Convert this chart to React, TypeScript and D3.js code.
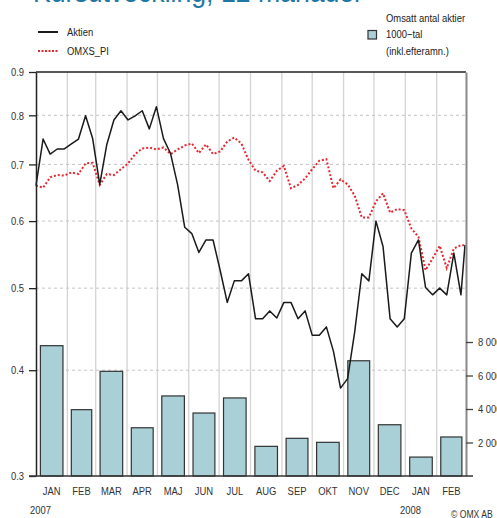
// @ts-nocheck
import { useEffect, useRef } from "react";
import * as d3 from "d3";

// weekly closing dates
const weeks = [
  "2007-01-01", "2007-01-08", "2007-01-15", "2007-01-22", "2007-01-29",
  "2007-02-05", "2007-02-12", "2007-02-19", "2007-02-26",
  "2007-03-05", "2007-03-12", "2007-03-19", "2007-03-26",
  "2007-04-02", "2007-04-09", "2007-04-16", "2007-04-23", "2007-04-30",
  "2007-05-07", "2007-05-14", "2007-05-21", "2007-05-28",
  "2007-06-04", "2007-06-11", "2007-06-18", "2007-06-25",
  "2007-07-02", "2007-07-09", "2007-07-16", "2007-07-23", "2007-07-30",
  "2007-08-06", "2007-08-13", "2007-08-20", "2007-08-27",
  "2007-09-03", "2007-09-10", "2007-09-17", "2007-09-24",
  "2007-10-01", "2007-10-08", "2007-10-15", "2007-10-22", "2007-10-29",
  "2007-11-05", "2007-11-12", "2007-11-19", "2007-11-26",
  "2007-12-03", "2007-12-10", "2007-12-17", "2007-12-24", "2007-12-31",
  "2008-01-07", "2008-01-14", "2008-01-21", "2008-01-28",
  "2008-02-04", "2008-02-11", "2008-02-18", "2008-02-25", "2008-02-29",
];

const aktien = [
  0.661, 0.75, 0.72, 0.73, 0.73,
  0.74, 0.75, 0.799, 0.751,
  0.663, 0.739, 0.79, 0.81,
  0.79, 0.799, 0.81, 0.771, 0.819,
  0.751, 0.721, 0.662, 0.59,
  0.58, 0.551, 0.57, 0.57,
  0.525, 0.481, 0.51, 0.51, 0.52,
  0.46, 0.46, 0.47, 0.461,
  0.481, 0.481, 0.46, 0.47,
  0.44, 0.44, 0.45, 0.421, 0.381,
  0.391, 0.444, 0.52, 0.51,
  0.6, 0.56, 0.46, 0.45, 0.46,
  0.55, 0.57, 0.501, 0.491,
  0.5, 0.491, 0.55, 0.491, 0.562,
];

const omxspi = [
  0.661, 0.657, 0.676, 0.68, 0.679,
  0.685, 0.682, 0.702, 0.703,
  0.662, 0.682, 0.68, 0.691,
  0.702, 0.72, 0.731, 0.733, 0.729,
  0.733, 0.72, 0.729, 0.737,
  0.741, 0.722, 0.739, 0.72,
  0.725, 0.745, 0.753, 0.741, 0.709,
  0.688, 0.685, 0.669, 0.688,
  0.697, 0.656, 0.662, 0.674,
  0.691, 0.707, 0.71, 0.656, 0.672,
  0.663, 0.643, 0.606, 0.606,
  0.633, 0.647, 0.614, 0.62, 0.618,
  0.588, 0.575, 0.525, 0.542,
  0.561, 0.528, 0.557, 0.562, 0.562,
];

const months = [
  "2007-01-01", "2007-02-01", "2007-03-01", "2007-04-01", "2007-05-01",
  "2007-06-01", "2007-07-01", "2007-08-01", "2007-09-01", "2007-10-01",
  "2007-11-01", "2007-12-01", "2008-01-01", "2008-02-01", "2008-03-01",
];
const monthLabels = [
  "JAN", "FEB", "MAR", "APR", "MAJ", "JUN", "JUL",
  "AUG", "SEP", "OKT", "NOV", "DEC", "JAN", "FEB",
];
// omsatt antal aktier, 1000-tal
const volume = [7780, 3960, 6250, 2880, 4780, 3760, 4660, 1770, 2250, 2010, 6880, 3060, 1130, 2330];

const priceTicks = [0.3, 0.4, 0.5, 0.6, 0.7, 0.8, 0.9];
const volumeTicks = [2000, 4000, 6000, 8000];

const FONT = "'Liberation Sans Narrow', 'Liberation Sans', Arial, sans-serif";
const SQUEEZE = 0.82; // no narrow font installed, squeeze the glyphs instead

// squeeze text horizontally around its own x
const narrow = (sel) =>
  sel.each(function () {
    const t = d3.select(this);
    const x0 = +t.attr("x") || 0;
    t.attr("transform", `translate(${x0 * (1 - SQUEEZE)},0) scale(${SQUEEZE},1)`);
  });

const App = () => {
  const ref = useRef(null);

  useEffect(() => {
    if (!ref.current) return;
    const width = 497;
    const height = 518;
    const margin = { top: 72, right: 31, bottom: 42, left: 36 };
    const parse = d3.timeParse("%Y-%m-%d");

    d3.select(ref.current).selectAll("*").remove();

    const svg = d3
      .select(ref.current)
      .append("svg")
      .attr("width", width)
      .attr("height", height)
      .style("display", "block")
      .style("font-family", FONT);

    const x = d3
      .scaleTime()
      .domain([parse(months[0]), parse(months[months.length - 1])])
      .range([margin.left, width - margin.right]);

    const y = d3
      .scaleLog()
      .domain([0.3, 0.9])
      .range([height - margin.bottom, margin.top]);

    const yv = d3
      .scaleLinear()
      .domain([0, 24120])
      .range([height - margin.bottom, margin.top]);

    const left = margin.left;
    const right = width - margin.right;
    const top = margin.top;
    const bottom = height - margin.bottom;

    // title, mostly cut off at the top
    svg
      .append("text")
      .attr("x", 33)
      .attr("y", 1.5)
      .attr("font-family", "'Liberation Sans', Arial, sans-serif")
      .attr("font-size", 29)
      .attr("fill", "#1f78a4")
      .attr("textLength", 330)
      .attr("lengthAdjust", "spacingAndGlyphs")
      .text("Kursutveckling, 12 månader");

    // month gridlines
    svg
      .append("g")
      .selectAll("line")
      .data(months.slice(1, -1))
      .join("line")
      .attr("x1", (d) => x(parse(d)))
      .attr("x2", (d) => x(parse(d)))
      .attr("y1", top)
      .attr("y2", bottom)
      .attr("stroke", "#d4d4d4")
      .attr("stroke-width", 1.3);

    // horizontal dashed gridlines
    svg
      .append("g")
      .selectAll("line")
      .data(priceTicks.slice(1, -1))
      .join("line")
      .attr("x1", left)
      .attr("x2", right)
      .attr("y1", (d) => y(d))
      .attr("y2", (d) => y(d))
      .attr("stroke", "#c4c4c4")
      .attr("stroke-dasharray", "3,3");

    // volume bars
    const monthData = monthLabels.map((m, i) => ({
      label: m,
      start: parse(months[i]),
      end: parse(months[i + 1]),
      vol: volume[i],
    }));

    svg
      .append("g")
      .selectAll("rect")
      .data(monthData)
      .join("rect")
      .attr("x", (d) => {
        const w = x(d.end) - x(d.start);
        return x(d.start) + w * 0.14;
      })
      .attr("width", (d) => (x(d.end) - x(d.start)) * 0.72)
      .attr("y", (d) => yv(d.vol))
      .attr("height", (d) => yv(0) - yv(d.vol))
      .attr("fill", "#a9d0d7")
      .attr("stroke", "#333")
      .attr("stroke-width", 1.2);

    // lines
    const pts = (vals) => weeks.map((w, i) => ({ date: parse(w), value: vals[i] }));
    const line = d3
      .line()
      .x((d) => x(d.date))
      .y((d) => y(d.value));

    svg
      .append("path")
      .datum(pts(omxspi))
      .attr("fill", "none")
      .attr("stroke", "#e8262f")
      .attr("stroke-width", 2)
      .attr("stroke-dasharray", "2,2")
      .attr("d", line);

    svg
      .append("path")
      .datum(pts(aktien))
      .attr("fill", "none")
      .attr("stroke", "#1a1a1a")
      .attr("stroke-width", 1.5)
      .attr("stroke-linejoin", "round")
      .attr("d", line);

    // frame
    svg
      .append("line")
      .attr("x1", left)
      .attr("x2", right)
      .attr("y1", top)
      .attr("y2", top)
      .attr("stroke", "#222")
      .attr("stroke-width", 1.3);

    // left axis
    svg
      .append("g")
      .attr("transform", `translate(${left},0)`)
      .call(
        d3
          .axisLeft(y)
          .tickValues(priceTicks)
          .tickFormat(d3.format(".1f"))
          .tickSize(7)
          .tickSizeOuter(0)
          .tickPadding(5)
      )
      .call((g) => g.select(".domain").attr("stroke", "#222").attr("stroke-width", 1.5))
      .call((g) => g.selectAll(".tick line").attr("stroke", "#222").attr("stroke-width", 1.3))
      .call((g) =>
        g
          .selectAll(".tick text")
          .attr("font-family", FONT)
          .attr("font-size", 11.5)
          .attr("fill", "#333")
          .call(narrow)
      );

    // right axis (volume)
    svg
      .append("g")
      .attr("transform", `translate(${right},0)`)
      .call(
        d3
          .axisRight(yv)
          .tickValues(volumeTicks)
          .tickFormat((d) => d3.format(",")(d).replace(",", " "))
          .tickSize(7)
          .tickSizeOuter(0)
          .tickPadding(5)
      )
      .call((g) => g.select(".domain").attr("stroke", "#888").attr("stroke-width", 2))
      .call((g) => g.selectAll(".tick line").attr("stroke", "#444").attr("stroke-width", 1.3))
      .call((g) =>
        g
          .selectAll(".tick text")
          .attr("font-family", FONT)
          .attr("font-size", 11.5)
          .attr("fill", "#333")
          .call(narrow)
      );

    // bottom axis line
    svg
      .append("line")
      .attr("x1", left - 7)
      .attr("x2", right + 7)
      .attr("y1", bottom)
      .attr("y2", bottom)
      .attr("stroke", "#333")
      .attr("stroke-width", 1.5);

    // month labels
    svg
      .append("g")
      .selectAll("text")
      .data(monthData)
      .join("text")
      .attr("x", (d) => (x(d.start) + x(d.end)) / 2)
      .attr("y", 495)
      .attr("text-anchor", "middle")
      .attr("font-size", 11.5)
      .attr("fill", "#333")
      .text((d) => d.label)
      .call(narrow);

    const foot = svg.append("g").attr("font-size", 11.5).attr("fill", "#333");
    foot.append("text").attr("x", 30).attr("y", 514).text("2007");
    foot.append("text").attr("x", 400).attr("y", 514).text("2008");
    foot.append("text").attr("x", 451).attr("y", 518).attr("font-size", 10.5).text("© OMX AB");
    foot.selectAll("text").call(narrow);

    // legend
    const lg = svg.append("g").attr("font-size", 11.5).attr("fill", "#222");
    lg.append("line")
      .attr("x1", 38).attr("x2", 58).attr("y1", 32).attr("y2", 32)
      .attr("stroke", "#1a1a1a").attr("stroke-width", 2);
    lg.append("text").attr("x", 67).attr("y", 36).text("Aktien");
    lg.append("line")
      .attr("x1", 38).attr("x2", 58).attr("y1", 51).attr("y2", 51)
      .attr("stroke", "#e8262f").attr("stroke-width", 2).attr("stroke-dasharray", "2,1.5");
    lg.append("text").attr("x", 67).attr("y", 55).text("OMXS_PI");

    lg.append("rect")
      .attr("x", 368).attr("y", 30.5).attr("width", 8.5).attr("height", 8.5)
      .attr("fill", "#a9d0d7").attr("stroke", "#333").attr("stroke-width", 1.2);
    lg.append("text").attr("x", 386).attr("y", 22).text("Omsatt antal aktier");
    lg.append("text").attr("x", 386).attr("y", 38).text("1000\u2212tal");
    lg.append("text").attr("x", 386).attr("y", 55).text("(inkl.efteramn.)");
    lg.selectAll("text").call(narrow);
  }, []);

  return (
    <div style={{ position: "absolute", left: 0, top: 0, width: 497, height: 518, background: "#fff" }}>
      <div ref={ref} />
    </div>
  );
};

export default App;
